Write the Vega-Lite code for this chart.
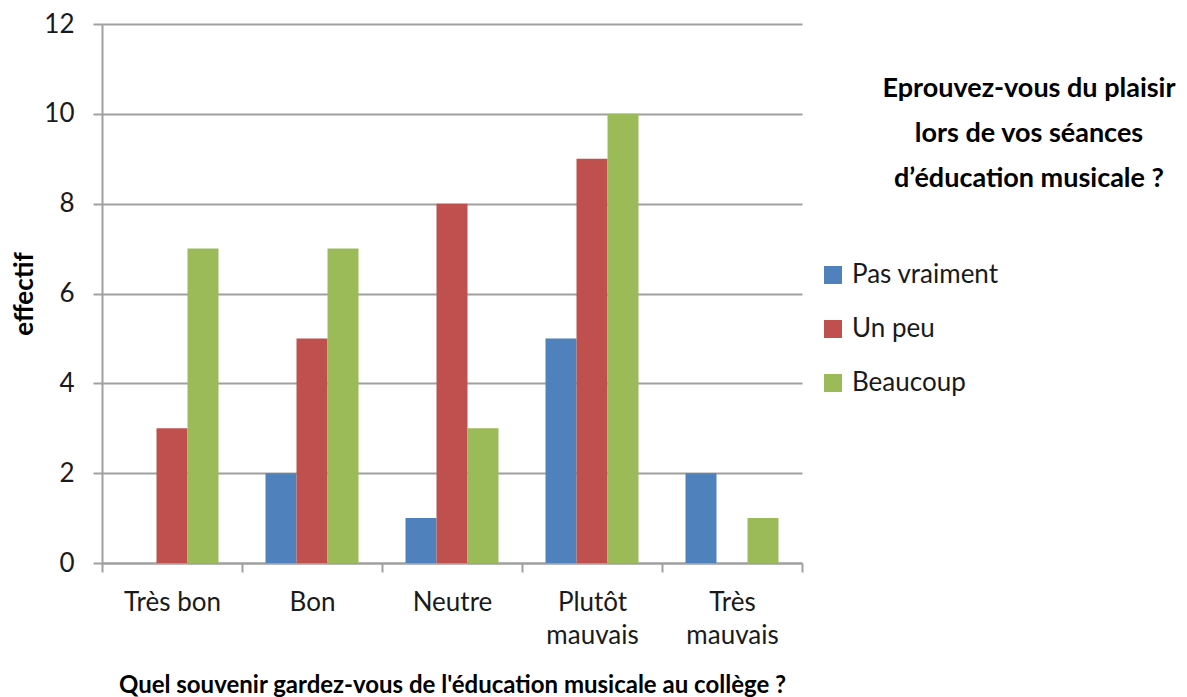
{
  "$schema": "https://vega.github.io/schema/vega-lite/v6.json",
  "width": 700,
  "height": 539,
  "autosize": {"type": "none"},
  "padding": {"left": 102, "top": 24, "right": 385, "bottom": 134},
  "background": "white",
  "data": {
    "values": [
      {"souvenir": "Très bon", "plaisir": "Pas vraiment", "effectif": 0},
      {"souvenir": "Très bon", "plaisir": "Un peu", "effectif": 3},
      {"souvenir": "Très bon", "plaisir": "Beaucoup", "effectif": 7},
      {"souvenir": "Bon", "plaisir": "Pas vraiment", "effectif": 2},
      {"souvenir": "Bon", "plaisir": "Un peu", "effectif": 5},
      {"souvenir": "Bon", "plaisir": "Beaucoup", "effectif": 7},
      {"souvenir": "Neutre", "plaisir": "Pas vraiment", "effectif": 1},
      {"souvenir": "Neutre", "plaisir": "Un peu", "effectif": 8},
      {"souvenir": "Neutre", "plaisir": "Beaucoup", "effectif": 3},
      {"souvenir": "Plutôt mauvais", "plaisir": "Pas vraiment", "effectif": 5},
      {"souvenir": "Plutôt mauvais", "plaisir": "Un peu", "effectif": 9},
      {"souvenir": "Plutôt mauvais", "plaisir": "Beaucoup", "effectif": 10},
      {"souvenir": "Très mauvais", "plaisir": "Pas vraiment", "effectif": 2},
      {"souvenir": "Très mauvais", "plaisir": "Un peu", "effectif": 0},
      {"souvenir": "Très mauvais", "plaisir": "Beaucoup", "effectif": 1}
    ]
  },
  "title": {
    "text": ["Eprouvez-vous du plaisir", "lors de vos séances", "d’éducation musicale ?"],
    "anchor": "end",
    "frame": "group",
    "align": "center",
    "baseline": "top",
    "offset": 0,
    "dx": 227,
    "dy": 182,
    "font": "Lato",
    "fontSize": 27,
    "fontWeight": "bold",
    "lineHeight": 45,
    "color": "#000000"
  },
  "mark": {"type": "bar"},
  "encoding": {
    "x": {
      "field": "souvenir",
      "type": "nominal",
      "sort": ["Très bon", "Bon", "Neutre", "Plutôt mauvais", "Très mauvais"],
      "scale": {"paddingInner": 0, "paddingOuter": 0},
      "axis": {
        "title": "Quel souvenir gardez-vous de l'éducation musicale au collège ?",
        "titleFont": "Lato",
        "titleFontSize": 24,
        "titleFontWeight": "bold",
        "titleColor": "#000000",
        "titlePadding": 25,
        "labelAngle": 0,
        "labelFont": "Lato",
        "labelFontSize": 26,
        "labelColor": "#1a1a1a",
        "labelPadding": 17,
        "labelLineHeight": 33,
        "labelExpr": "datum.value == 'Plutôt mauvais' ? ['Plutôt', 'mauvais'] : datum.value == 'Très mauvais' ? ['Très', 'mauvais'] : datum.value",
        "tickBand": "extent",
        "tickSize": 9,
        "tickColor": "#a0a0a0",
        "tickWidth": 2,
        "domainColor": "#a0a0a0",
        "domainWidth": 2,
        "grid": false
      }
    },
    "xOffset": {
      "field": "plaisir",
      "type": "nominal",
      "sort": ["Pas vraiment", "Un peu", "Beaucoup"],
      "scale": {"paddingInner": 0, "paddingOuter": 0.758}
    },
    "y": {
      "field": "effectif",
      "type": "quantitative",
      "scale": {"domain": [0, 12], "nice": false},
      "axis": {
        "title": "effectif",
        "titleFont": "Lato",
        "titleFontSize": 26,
        "titleFontWeight": "bold",
        "titleColor": "#000000",
        "titlePadding": 6,
        "values": [0, 2, 4, 6, 8, 10, 12],
        "labelFont": "Lato",
        "labelFontSize": 26,
        "labelColor": "#1a1a1a",
        "labelPadding": 19,
        "tickSize": 9,
        "tickColor": "#a0a0a0",
        "tickWidth": 2,
        "domainColor": "#a0a0a0",
        "domainWidth": 2,
        "grid": true,
        "gridColor": "#a0a0a0",
        "gridWidth": 2
      }
    },
    "color": {
      "field": "plaisir",
      "type": "nominal",
      "scale": {
        "domain": ["Pas vraiment", "Un peu", "Beaucoup"],
        "range": ["#4F81BD", "#C0504D", "#9BBB59"]
      },
      "legend": {
        "title": null,
        "orient": "none",
        "legendX": 718,
        "legendY": 238,
        "symbolType": "square",
        "symbolSize": 324,
        "labelFont": "Lato",
        "labelFontSize": 26,
        "labelColor": "#1a1a1a",
        "labelOffset": 6,
        "rowPadding": 28
      }
    }
  },
  "config": {
    "view": {"stroke": null}
  }
}
